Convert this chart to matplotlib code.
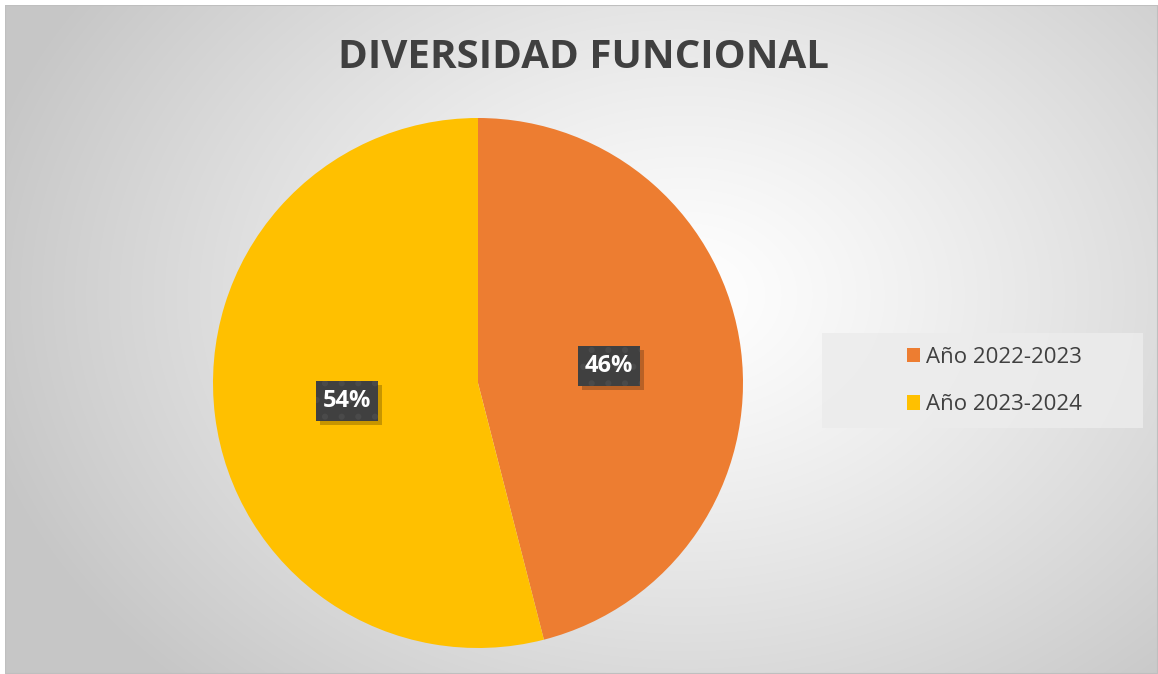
import numpy as np
import matplotlib.pyplot as plt
from matplotlib.patches import Rectangle

# Data
categories = ['Año 2022-2023', 'Año 2023-2024']
values = [46, 54]
colors = ['#ED7D31', '#FFC000']
title = 'DIVERSIDAD FUNCIONAL'

W, H = 1158, 674
plt.rcParams['font.family'] = ['Open Sans', 'DejaVu Sans']
plt.rcParams['hatch.linewidth'] = 2.0

fig = plt.figure(figsize=(W / 100, H / 100), dpi=100)
fig.patch.set_facecolor('white')

# chart area background with radial gradient
bg = fig.add_axes([5 / W, 0, (W - 5) / W, (H - 5) / H])
bg.set_axis_off()
yy, xx = np.mgrid[0:669, 0:1153]
cx, cy = 680, 290
r = np.sqrt(((xx - cx) / 720.0) ** 2 + ((yy - cy) / 540.0) ** 2)
r = np.clip(r, 0, 1)
shade = 1.0 - 0.22 * r ** 1.2
bg.imshow(np.dstack([shade, shade, shade]), aspect='auto', extent=[0, 1, 0, 1], origin='upper')
bg.set_xlim(0, 1)
bg.set_ylim(0, 1)
bg.add_patch(Rectangle((0, 0), 1, 1, transform=bg.transAxes, fill=False,
                       edgecolor='#bfbfbf', lw=1.5))

# pie axes
cxp, cyp, rad = 478, 383, 265
ax = fig.add_axes([(cxp - rad) / W, (H - cyp - rad) / H, 2 * rad / W, 2 * rad / H])
wedges, _ = ax.pie(values, colors=colors, startangle=90, counterclock=False,
                   radius=1.0, wedgeprops=dict(linewidth=0))
ax.set_xlim(-1, 1)
ax.set_ylim(-1, 1)
ax.set_aspect('equal')
ax.set_axis_off()

# data labels (dark boxes with a soft shadow)
label_pos = [(609, 366), (347, 401)]
bw, bh = 62 / rad, 40 / rad
for (px, py), v in zip(label_pos, values):
    xd = (px - cxp) / rad
    yd = -(py - cyp) / rad
    ax.add_patch(Rectangle((xd - bw / 2 + 4 / rad, yd - bh / 2 - 4 / rad), bw, bh,
                           facecolor='black', alpha=0.22, edgecolor='none'))
    ax.add_patch(Rectangle((xd - bw / 2, yd - bh / 2), bw, bh, facecolor='#404040',
                           edgecolor='#4a4a4a', linewidth=0, hatch='.'))
    ax.text(xd, yd, f'{v}%', ha='center', va='center', fontsize=17,
            fontweight='bold', color='white')

# title
fig.text(583 / W, 1 - 57 / H, title, ha='center', va='center', fontsize=29,
         fontweight='bold', color='#404040')

# legend box
fig.patches.append(Rectangle((822 / W, 1 - 428 / H), (1143 - 822) / W, (428 - 333) / H,
                             transform=fig.transFigure, facecolor='#ececec', alpha=0.85,
                             edgecolor='none'))
fig.legend(wedges, categories, loc='center left', bbox_to_anchor=(887 / W, 1 - 381 / H),
           frameon=False, fontsize=16, handlelength=0.6, handleheight=0.6,
           handletextpad=0.25, labelspacing=1.2, labelcolor='#404040')

fig.savefig('out.png', dpi=100)
